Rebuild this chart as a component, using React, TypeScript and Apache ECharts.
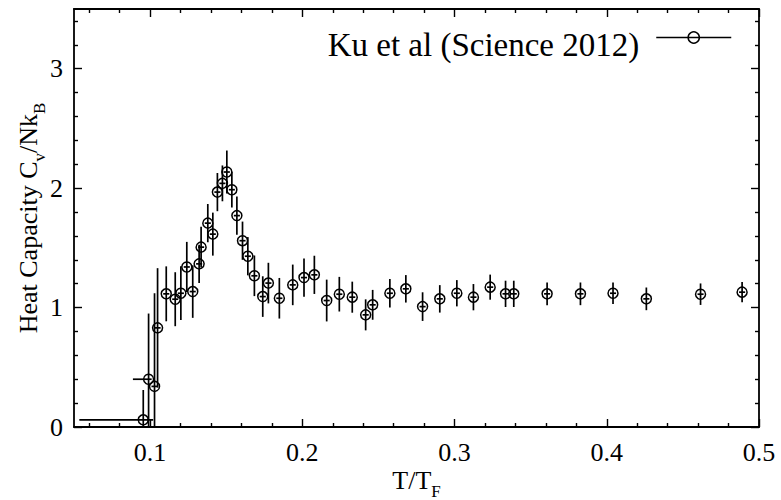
import React, { useEffect, useRef } from 'react';
import * as echarts from 'echarts';

// Reduced temperature T/T_F of each measurement
const tf = [
  0.0955, 0.099, 0.1029, 0.1049, 0.1106, 0.1165, 0.1202, 0.1241, 0.128, 0.1322,
  0.1335, 0.1379, 0.1412, 0.1442, 0.1475, 0.1504, 0.1537, 0.157, 0.1607, 0.1642,
  0.1685, 0.174, 0.1777, 0.1849, 0.1937, 0.2011, 0.2079, 0.216, 0.2243, 0.2328,
  0.2416, 0.2462, 0.2575, 0.268, 0.279, 0.2903, 0.3015, 0.3124, 0.3234, 0.3335,
  0.3389, 0.3608, 0.3827, 0.4041, 0.426, 0.4616, 0.4889,
];

// Heat capacity per particle C_v / N k_B
const cv = [
  0.06, 0.4, 0.34, 0.83, 1.115, 1.07, 1.12, 1.34, 1.134, 1.366,
  1.506, 1.707, 1.615, 1.967, 2.04, 2.135, 1.987, 1.77, 1.56, 1.43,
  1.266, 1.092, 1.205, 1.078, 1.19, 1.251, 1.274, 1.059, 1.112, 1.087,
  0.939, 1.023, 1.12, 1.157, 1.008, 1.073, 1.12, 1.087, 1.171, 1.115,
  1.115, 1.115, 1.115, 1.12, 1.073, 1.112, 1.129,
];

// Symmetric uncertainty on C_v / N k_B
const cvErr = [
  0.25, 0.55, 0.78, 0.5, 0.23, 0.226, 0.225, 0.21, 0.22, 0.16,
  0.17, 0.16, 0.18, 0.16, 0.15, 0.18, 0.15, 0.16, 0.16, 0.16,
  0.17, 0.17, 0.17, 0.17, 0.17, 0.16, 0.16, 0.175, 0.145, 0.13,
  0.13, 0.125, 0.12, 0.115, 0.12, 0.115, 0.11, 0.11, 0.105, 0.11,
  0.11, 0.095, 0.095, 0.09, 0.095, 0.09, 0.085,
];

// Uncertainty on T/T_F below and above each point
const tfErrLow = [
  0.042, 0.0103, 0.002, 0.002, 0.002, 0.002, 0.002, 0.002, 0.002, 0.002,
  0.002, 0.002, 0.002, 0.002, 0.002, 0.002, 0.002, 0.002, 0.002, 0.002,
  0.002, 0.002, 0.002, 0.002, 0.002, 0.002, 0.002, 0.002, 0.002, 0.002,
  0.002, 0.002, 0.002, 0.002, 0.002, 0.002, 0.002, 0.002, 0.002, 0.002,
  0.002, 0.002, 0.002, 0.002, 0.002, 0.002, 0.002,
];
const tfErrHigh = [
  0.0065, 0.002, 0.002, 0.002, 0.002, 0.002, 0.002, 0.002, 0.002, 0.002,
  0.002, 0.002, 0.002, 0.002, 0.002, 0.002, 0.002, 0.002, 0.002, 0.002,
  0.002, 0.002, 0.002, 0.002, 0.002, 0.002, 0.002, 0.002, 0.002, 0.002,
  0.002, 0.002, 0.002, 0.002, 0.002, 0.002, 0.002, 0.002, 0.002, 0.002,
  0.002, 0.002, 0.002, 0.002, 0.002, 0.002, 0.002,
];

const seriesName = 'Ku et al (Science 2012)';

const xMajorTicks = [0.1, 0.2, 0.3, 0.4, 0.5];
const xMinorTicks = [
  0.06, 0.08, 0.12, 0.14, 0.16, 0.18, 0.22, 0.24, 0.26, 0.28,
  0.32, 0.34, 0.36, 0.38, 0.42, 0.44, 0.46, 0.48,
];
const yMajorTicks = [0, 1, 2, 3];
const yMinorTicks = [
  0.2, 0.4, 0.6, 0.8, 1.2, 1.4, 1.6, 1.8, 2.2, 2.4, 2.6, 2.8, 3.2, 3.4,
];

const FONT = 'Liberation Serif';
const INK = '#000';

const subStyle = { fontFamily: FONT, fontSize: 17, color: INK, lineHeight: 14, padding: [22, 0, 0, 0] };

function tickAxis(position: string, kind: 'x' | 'y', ticks: number[], len: number, showLine: boolean, label: boolean, extra: any = {}) {
  const range = kind === 'x' ? { min: 0.05, max: 0.5 } : { min: 0, max: 3.5 };
  return {
    type: 'value',
    position,
    ...range,
    splitLine: { show: false },
    axisLine: { show: showLine, onZero: false, lineStyle: { color: INK, width: 1.8 } },
    axisTick: { show: true, inside: true, length: len, customValues: ticks, lineStyle: { color: INK, width: 1.4 } },
    axisLabel: label
      ? {
          show: true,
          customValues: ticks,
          fontFamily: FONT,
          fontSize: 26,
          color: INK,
          margin: kind === 'x' ? 12 : 11,
          formatter: (v: number) => String(Math.round(v * 10) / 10),
        }
      : { show: false },
    ...extra,
  };
}

export default function App() {
  const ref = useRef<HTMLDivElement>(null);

  useEffect(() => {
    if (!ref.current) return;
    const chart = echarts.init(ref.current, null, { renderer: 'svg' });

    const errData = tf.map((t, i) => [t, cv[i], cvErr[i], t - tfErrLow[i], t + tfErrHigh[i]]);
    const pointData = tf.map((t, i) => [t, cv[i]]);

    chart.setOption({
      animation: false,
      backgroundColor: '#fff',
      grid: { left: 74, right: 22, top: 9, bottom: 73, outerBoundsMode: 'none' },
      legend: {
        data: [seriesName],
        right: 44,
        top: 23,
        align: 'right',
        itemWidth: 75,
        itemHeight: 14,
        formatter: (name: string) => `{t|${name}}`,
        textStyle: {
          fontFamily: FONT,
          fontSize: 33,
          color: INK,
          rich: { t: { fontFamily: FONT, fontSize: 33, color: INK, padding: [14, 12, 0, 0] } },
        },
        lineStyle: { color: INK, width: 1.5, opacity: 1, type: 'solid' },
        itemStyle: { color: 'rgba(0,0,0,0)', borderColor: INK, borderWidth: 1.5 },
      },
      xAxis: [
        tickAxis('bottom', 'x', xMajorTicks, 8, true, true, {
          name: 'T/T{s|F}',
          nameLocation: 'middle',
          nameGap: 40,
          nameMoveOverlap: false,
          nameTextStyle: { fontFamily: FONT, fontSize: 26, color: INK, rich: { s: subStyle } },
        }),
        tickAxis('bottom', 'x', xMinorTicks, 4, false, false),
        tickAxis('top', 'x', xMajorTicks, 8, true, false),
        tickAxis('top', 'x', xMinorTicks, 4, false, false),
      ],
      yAxis: [
        tickAxis('left', 'y', yMajorTicks, 8, true, true, {
          name: 'Heat Capacity C{s|v}/Nk{s|B}',
          nameLocation: 'middle',
          nameGap: 33,
          nameMoveOverlap: false,
          nameTextStyle: { fontFamily: FONT, fontSize: 26, color: INK, rich: { s: subStyle } },
        }),
        tickAxis('left', 'y', yMinorTicks, 4, false, false),
        tickAxis('right', 'y', yMajorTicks, 8, true, false),
        tickAxis('right', 'y', yMinorTicks, 4, false, false),
      ],
      series: [
        {
          type: 'custom',
          name: 'errors',
          xAxisIndex: 0,
          yAxisIndex: 0,
          clip: true,
          silent: true,
          data: errData,
          renderItem: (_params: any, api: any) => {
            const x = api.value(0);
            const y = api.value(1);
            const e = api.value(2);
            const top = api.coord([x, y + e]);
            const bot = api.coord([x, y - e]);
            const left = api.coord([api.value(3), y]);
            const right = api.coord([api.value(4), y]);
            const style = { stroke: INK, lineWidth: 1.7 };
            return {
              type: 'group',
              children: [
                { type: 'line', shape: { x1: top[0], y1: top[1], x2: bot[0], y2: bot[1] }, style },
                { type: 'line', shape: { x1: left[0], y1: left[1], x2: right[0], y2: right[1] }, style },
              ],
            };
          },
        },
        {
          type: 'line',
          name: seriesName,
          xAxisIndex: 0,
          yAxisIndex: 0,
          data: pointData,
          symbol: 'circle',
          symbolSize: 10,
          showSymbol: true,
          lineStyle: { width: 0, opacity: 0 },
          itemStyle: { color: 'rgba(0,0,0,0)', borderColor: INK, borderWidth: 1.5 },
          z: 3,
        },
      ],
    });

    return () => chart.dispose();
  }, []);

  return (
    <div
      ref={ref}
      style={{ position: 'fixed', left: 0, top: 0, width: 781, height: 500, background: '#fff' }}
    />
  );
}
